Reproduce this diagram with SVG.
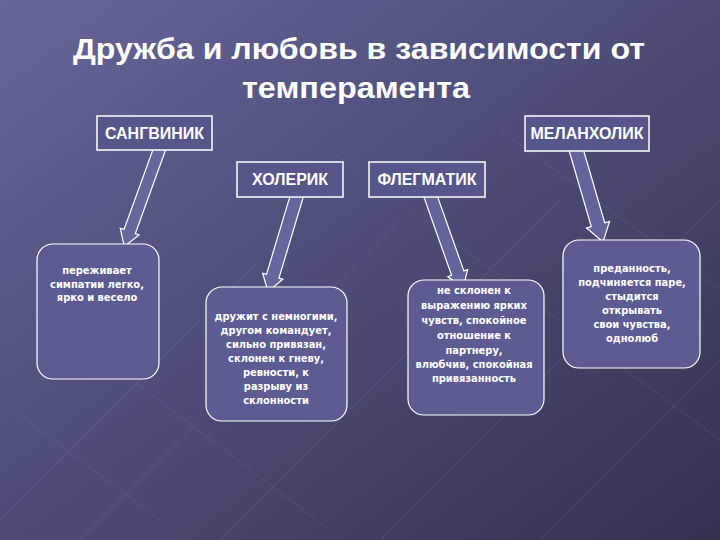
<svg xmlns="http://www.w3.org/2000/svg" width="720" height="540" viewBox="0 0 720 540">
  <defs>
    <linearGradient id="bg" x1="0" y1="0" x2="1" y2="1">
      <stop offset="0" stop-color="#66669a"/>
      <stop offset="0.5" stop-color="#4c4c77"/>
      <stop offset="1" stop-color="#32324f"/>
    </linearGradient>
  </defs>
  <style>
    .title { font-family: "Liberation Sans", Arial, sans-serif; font-weight: bold; font-size: 29px; fill: #ffffff; text-anchor: middle; }
    .hdr rect { fill: #56568a; stroke: #ffffff; stroke-width: 1.5; }
    .hdr text { font-family: "Liberation Sans", Arial, sans-serif; font-weight: bold; font-size: 16px; fill: #ffffff; text-anchor: middle; }
    .desc rect { fill: #5c5c93; stroke: #ffffff; stroke-width: 1.2; }
    .desc text { font-family: "DejaVu Sans Condensed", "DejaVu Sans", Verdana, sans-serif; font-stretch: condensed; font-weight: bold; font-size: 11px; fill: #ffffff; text-anchor: middle; }
    .conn polygon { fill: #6a6aa4; fill-opacity: 0.85; stroke: #ffffff; stroke-width: 1.2; stroke-linejoin: miter; }
    .lattice line { stroke: #8a8ac0; stroke-opacity: 0.12; stroke-width: 1.5; }
  </style>

  <rect x="0" y="0" width="720" height="540" fill="url(#bg)"/>

  <g class="lattice">
    <line x1="-40" y1="560" x2="260" y2="260"/>
    <line x1="60" y1="560" x2="400" y2="220"/>
    <line x1="200" y1="560" x2="560" y2="200"/>
    <line x1="360" y1="560" x2="720" y2="200"/>
    <line x1="520" y1="560" x2="720" y2="360"/>
    <line x1="0" y1="400" x2="160" y2="520"/>
    <line x1="0" y1="280" x2="330" y2="530"/>
    <line x1="330" y1="150" x2="720" y2="440"/>
    <line x1="500" y1="130" x2="720" y2="290"/>
  </g>

  <text class="title" x="359" y="59" textLength="572" lengthAdjust="spacingAndGlyphs">Дружба и любовь в зависимости от</text>
  <text class="title" x="356" y="98" textLength="228" lengthAdjust="spacingAndGlyphs">темперамента</text>

  <g class="conn" id="connectors">
    <polygon transform="translate(161,145) rotate(19.9)" points="-6,0 6,0 6,92 10,92 0,108 -10,92 -6,92"/>
    <polygon transform="translate(298,192) rotate(16.7)" points="-6.5,0 6.5,0 6.5,88 10.5,88 0,104 -10.5,88 -6.5,88"/>
    <polygon transform="translate(429,192) rotate(-19.5)" points="-6.5,0 6.5,0 6.5,86 10.5,86 0,102 -10.5,86 -6.5,86"/>
    <polygon transform="translate(575,146) rotate(-16.3)" points="-7,0 7,0 7,82 12,82 0,100 -12,82 -7,82"/>
  </g>

  <g class="hdr" id="sanguine">
    <rect x="97" y="116" width="115" height="34"/>
    <text x="154.5" y="139">САНГВИНИК</text>
  </g>
  <g class="hdr" id="choleric">
    <rect x="237" y="162" width="106" height="35"/>
    <text x="290" y="185">ХОЛЕРИК</text>
  </g>
  <g class="hdr" id="phlegmatic">
    <rect x="369" y="162" width="116" height="35"/>
    <text x="427" y="185">ФЛЕГМАТИК</text>
  </g>
  <g class="hdr" id="melancholic">
    <rect x="525" y="116" width="124" height="35"/>
    <text x="587" y="139">МЕЛАНХОЛИК</text>
  </g>

  <g class="desc" id="sanguine-desc">
    <rect x="37" y="244" width="122" height="135" rx="16"/>
    <text x="97" y="274">переживает</text>
    <text x="97" y="288">симпатии легко,</text>
    <text x="97" y="301">ярко и весело</text>
  </g>
  <g class="desc" id="choleric-desc">
    <rect x="206" y="287" width="141" height="134" rx="16"/>
    <text x="276" y="320">дружит с немногими,</text>
    <text x="276" y="334">другом командует,</text>
    <text x="276" y="348">сильно привязан,</text>
    <text x="276" y="362">склонен к гневу,</text>
    <text x="276" y="376">ревности, к</text>
    <text x="276" y="390">разрыву из</text>
    <text x="276" y="404">склонности</text>
  </g>
  <g class="desc" id="phlegmatic-desc">
    <rect x="408" y="280" width="136" height="135" rx="16"/>
    <text x="474" y="294">не склонен к</text>
    <text x="474" y="309">выражению ярких</text>
    <text x="474" y="324">чувств, спокойное</text>
    <text x="474" y="339">отношение к</text>
    <text x="474" y="354">партнеру,</text>
    <text x="474" y="368">влюбчив, спокойная</text>
    <text x="474" y="382">привязанность</text>
  </g>
  <g class="desc" id="melancholic-desc">
    <rect x="563" y="240" width="137" height="128" rx="16"/>
    <text x="632" y="272">преданность,</text>
    <text x="632" y="286">подчиняется паре,</text>
    <text x="632" y="300">стыдится</text>
    <text x="632" y="314">открывать</text>
    <text x="632" y="328">свои чувства,</text>
    <text x="632" y="342">однолюб</text>
  </g>
</svg>
